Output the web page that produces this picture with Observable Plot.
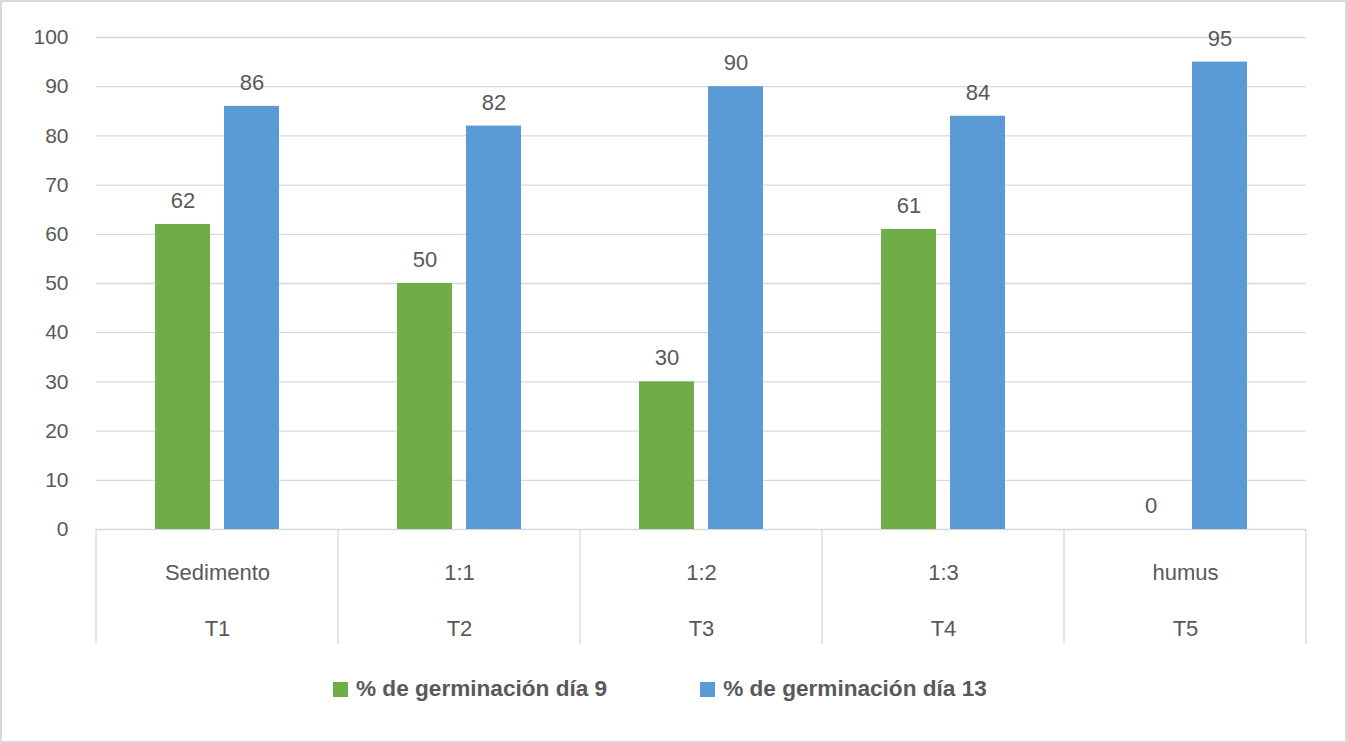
<!DOCTYPE html>
<html>
<head>
<meta charset="utf-8">
<script src="https://cdn.jsdelivr.net/npm/d3@7"></script>
<script src="https://cdn.jsdelivr.net/npm/@observablehq/plot@0.6"></script>
<style>
  html, body { margin: 0; padding: 0; background: #fff; }
  #wrap { position: relative; width: 1347px; height: 743px; overflow: hidden; background: #fff; font-family: "Liberation Sans", Arial, sans-serif; }
  #chart { position: absolute; left: 0; top: 0; }
  #border { position: absolute; inset: 0; border: 2px solid #d9d9d9; pointer-events: none; }
  #legend { position: absolute; left: 333px; top: 676px; display: flex; align-items: center; font-weight: bold; font-size: 22.6px; color: #595959; }
  .item { display: flex; align-items: center; }
  .sw { width: 15px; height: 15px; margin-right: 8px; }
</style>
</head>
<body>
<div id="wrap">
  <div id="chart"></div>
  <div id="legend"></div>
  <div id="border"></div>
</div>
<script>
const categories = ["Sedimento", "1:1", "1:2", "1:3", "humus"];
const treatments = ["T1", "T2", "T3", "T4", "T5"];
const series = ["% de germinación día 9", "% de germinación día 13"];
const day9 = [62, 50, 30, 61, 0];
const day13 = [86, 82, 90, 84, 95];
const colors = ["#70AD47", "#5B9BD5"];
const yTicks = [0, 10, 20, 30, 40, 50, 60, 70, 80, 90, 100];

const data = [];
categories.forEach((c, i) => {
  data.push({cat: c, series: series[0], value: day9[i]});
  data.push({cat: c, series: series[1], value: day13[i]});
});
const catLabel = c => c + "\n" + treatments[categories.indexOf(c)];

const textColor = "#595959";
const gridColor = "#d9d9d9";

const plot = Plot.plot({
  width: 1347,
  height: 662,
  marginLeft: 95,
  marginRight: 40,
  marginTop: 37,
  marginBottom: 133,
  style: { fontFamily: '"Liberation Sans", Arial, sans-serif', background: "transparent", overflow: "visible" },
  fx: { domain: categories, padding: 0, axis: null, label: null },
  x: { domain: series, paddingInner: 0.2, paddingOuter: 0.844, axis: null, label: null },
  y: { domain: [0, 100], ticks: yTicks, tickSize: 0, tickPadding: 28, label: null, fontSize: 21 },
  color: { domain: series, range: colors },
  marks: [
    Plot.ruleY(yTicks, { stroke: gridColor, strokeWidth: 1.3 }),
    Plot.barY(data, { fx: "cat", x: "series", y: "value", fill: "series" }),
    Plot.text(data, { fx: "cat", x: "series", y: "value", text: d => String(d.value), dy: -23.5, fontSize: 22, fill: textColor }),
    Plot.text(categories, { fx: d => d, frameAnchor: "bottom", text: catLabel, lineAnchor: "top", dy: 11, lineHeight: 2.55, fontSize: 22, fill: textColor }),
    Plot.axisY({ ticks: yTicks, tickSize: 0, tickPadding: 28, fontSize: 21, color: textColor, label: null })
  ]
});

document.getElementById("chart").appendChild(plot);

// Category separators drawn from the fx and y scales
const fx = plot.scale("fx");
const ys = plot.scale("y");
const y0 = ys.apply(0);
const sepLength = 115;
const edges = categories.map(c => fx.apply(c));
edges.push(fx.apply(categories[categories.length - 1]) + fx.bandwidth);
const svg = d3.select(plot);
svg.append("g").selectAll("line").data(edges).join("line")
  .attr("x1", d => d).attr("x2", d => d)
  .attr("y1", y0).attr("y2", y0 + sepLength)
  .attr("stroke", gridColor).attr("stroke-width", 1.3);

// Legend
const legend = d3.select("#legend");
series.forEach((s, i) => {
  const it = legend.append("div").attr("class", "item").style("margin-right", i === 0 ? "93px" : "0");
  it.append("div").attr("class", "sw").style("background", colors[i]);
  it.append("span").text(s);
});
</script>
</body>
</html>
